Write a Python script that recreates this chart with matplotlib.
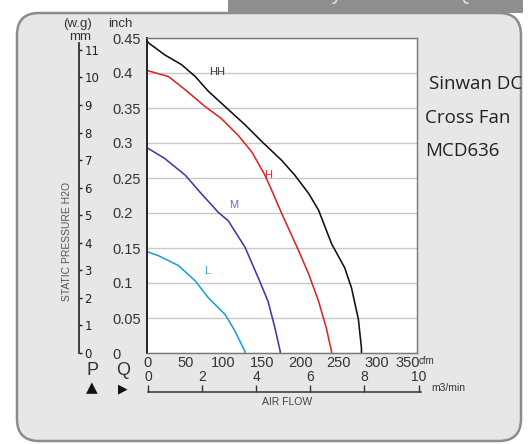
"""Courbe P-Q du ventilateur tangentiel Sinwan MCD636."""
import matplotlib.pyplot as plt
from matplotlib.patches import FancyBboxPatch, Rectangle

# --- données (cfm, inch H2O) ---
hh_flow = [0, 2, 23, 45, 63, 80, 102, 128, 150, 176, 193, 211, 224, 241, 258, 267, 276,
           280, 280]
hh_press = [0.446, 0.443, 0.426, 0.412, 0.395, 0.374, 0.352, 0.326, 0.302, 0.275, 0.254,
            0.228, 0.204, 0.156, 0.122, 0.093, 0.048, 0.007, 0.0]

h_flow = [0, 2, 28, 50, 76, 97, 119, 137, 154, 163, 176, 198, 211, 224, 234, 241, 241]
h_press = [0.404, 0.403, 0.395, 0.376, 0.352, 0.335, 0.311, 0.287, 0.254, 0.232, 0.199,
           0.146, 0.113, 0.074, 0.036, 0.002, 0.0]

m_flow = [0, 2, 23, 50, 69, 93, 106, 128, 145, 158, 167, 174, 174]
m_press = [0.293, 0.292, 0.278, 0.254, 0.230, 0.201, 0.189, 0.151, 0.108, 0.074, 0.036,
           0.002, 0.0]

l_flow = [0, 2, 15, 41, 63, 80, 102, 115, 128, 128]
l_press = [0.145, 0.144, 0.139, 0.125, 0.103, 0.079, 0.055, 0.031, 0.002, 0.0]

curves = [
    ("HH", hh_flow, hh_press, "#111111", "#333333", (92, 0.402)),
    ("H", h_flow, h_press, "#d62828", "#d62828", (158, 0.254)),
    ("M", m_flow, m_press, "#3b3ba8", "#6a6ac4", (113, 0.212)),
    ("L", l_flow, l_press, "#1f9fd2", "#3aa5cf", (78, 0.117)),
]

inch_ticks = [0, 0.05, 0.1, 0.15, 0.2, 0.25, 0.3, 0.35, 0.4, 0.45]
inch_labels = ["0", "0.05", "0.1", "0.15", "0.2", "0.25", "0.3", "0.35", "0.4", "0.45"]
mm_ticks = list(range(0, 12))
cfm_labels = ["0", "50", "100", "150", "200", "250", "300", "350"]
# le "350" est tassé vers la gauche sur l'original
cfm_label_pos = [0, 50, 100, 150, 200, 250, 300, 340]
m3_ticks = [0, 2, 4, 6, 8, 10]

model_lines = ["Sinwan DC", "Cross Fan", "MCD636"]

W, H = 532, 444
fig = plt.figure(figsize=(W / 100, H / 100), dpi=100)
fig.patch.set_facecolor("white")

# fond en coordonnées pixels
bg = fig.add_axes([0, 0, 1, 1])
bg.set_xlim(0, W)
bg.set_ylim(H, 0)
bg.axis("off")
bg.add_patch(FancyBboxPatch((17, 13), 504, 428,
                            boxstyle="round,pad=0,rounding_size=22",
                            fc="#e7e7e7", ec="#8c8c8c", lw=1.8))
bar = Rectangle((228, 0), 295, 13, fc="#8e8e8e", ec="none")
bg.add_patch(bar)
t = bg.text(262, -7, "Delivery  Curve   P-Q", color="#dcdcdc", fontsize=16,
            va="center", ha="left", family="Liberation Sans")
t.set_clip_path(bar)

txt = dict(family="Liberation Sans", color="#333333")
bg.text(77, 24, "(w.g)", ha="center", va="center", fontsize=9.5, **txt)
bg.text(80, 37, "mm", ha="center", va="center", fontsize=9.5, **txt)
bg.text(108, 24, "inch", ha="left", va="center", fontsize=9.5, **txt)
bg.text(67, 241, "STATIC PRESSURE H2O", rotation=90, ha="center", va="center",
        fontsize=7.5, family="Liberation Sans", color="#555555")
bg.text(93, 370, "P", ha="center", va="center", fontsize=13, **txt)
bg.text(123, 370, "Q", ha="center", va="center", fontsize=13, **txt)
bg.text(92, 388, "▲", ha="center", va="center", fontsize=11, color="#111111")
bg.text(123, 389, "▶", ha="center", va="center", fontsize=9, color="#111111")
bg.text(419, 361, "cfm", ha="left", va="center", fontsize=7, **txt)
bg.text(431, 388, "m3/min", ha="left", va="center", fontsize=7.5, **txt)
bg.text(287, 402, "AIR FLOW", ha="center", va="center", fontsize=7.5,
        family="Liberation Sans", color="#444444")
for i, line in enumerate(model_lines):
    bg.text(429 if i == 0 else 425, 84 + i * 33.5, line, ha="left", va="center",
            fontsize=13.5, family="Open Sans", color="#222222")

# zone du graphique
ax = fig.add_axes([147 / W, 1 - 353 / H, 270 / W, 315 / H])
ax.set_facecolor("white")
ax.set_xlim(0, 352.5)
ax.set_ylim(0, 0.45)
ax.set_yticks(inch_ticks)
ax.set_yticklabels(inch_labels)
ax.set_xticks(cfm_label_pos)
ax.set_xticklabels(cfm_labels)
ax.tick_params(axis="both", length=0, labelsize=10.5, labelcolor="#333333")
ax.tick_params(axis="y", pad=25)
ax.tick_params(axis="x", pad=2)
for lab in ax.get_yticklabels() + ax.get_xticklabels():
    lab.set_family("Liberation Sans")
for lab in ax.get_yticklabels():
    lab.set_ha("left")
ax.grid(axis="y", color="#c9c9c9", lw=1)
ax.set_axisbelow(True)
for side, sp in ax.spines.items():
    sp.set_color("#777777")
    sp.set_linewidth(1)
ax.spines["left"].set_color("#222222")
ax.spines["left"].set_linewidth(1.4)

for name, flow, press, col, lcol, pos in curves:
    ax.plot(flow, press, color=col, lw=1.15)
    ax.text(pos[0], pos[1], name, color=lcol, fontsize=8,
            family="Liberation Sans", ha="center", va="center")

# échelle mm H2O
ax_mm = fig.add_axes([79 / W, 1 - 353 / H, 0.0001, 315 / H])
ax_mm.set_ylim(0, 0.45 * 25.4)
ax_mm.patch.set_visible(False)
for side in ["left", "top", "bottom"]:
    ax_mm.spines[side].set_visible(False)
ax_mm.spines["right"].set_bounds(0, 11.25)
ax_mm.spines["right"].set_color("#222222")
ax_mm.spines["right"].set_linewidth(1.2)
ax_mm.set_xticks([])
ax_mm.yaxis.set_ticks_position("right")
ax_mm.set_yticks(mm_ticks)
ax_mm.tick_params(axis="y", length=2.5, width=1, pad=1.5, labelsize=8.5,
                  labelcolor="#222222", color="#222222")

# échelle m3/min
ax_q = fig.add_axes([148 / W, 1 - 392 / H, 27.05 * 10.1 / W, 0.0001])
ax_q.set_xlim(0, 10.1)
ax_q.patch.set_visible(False)
for side in ["left", "top", "right"]:
    ax_q.spines[side].set_visible(False)
ax_q.spines["bottom"].set_color("#333333")
ax_q.spines["bottom"].set_linewidth(1.1)
ax_q.set_yticks([])
ax_q.set_xticks(m3_ticks)
ax_q.tick_params(axis="x", direction="in", length=5, width=1, color="#333333",
                 bottom=True, top=False, labelbottom=False, labeltop=True,
                 pad=6, labelsize=10, labelcolor="#333333")
for lab in ax_q.get_xticklabels():
    lab.set_family("Liberation Sans")

fig.savefig("out.png", dpi=100)
